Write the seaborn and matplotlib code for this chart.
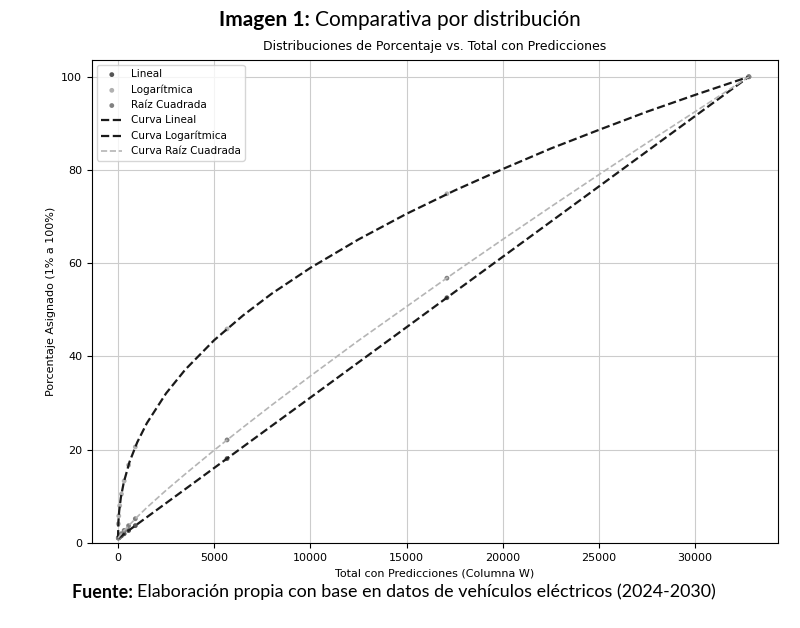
import matplotlib
matplotlib.use("Agg")
import matplotlib.pyplot as plt
import seaborn as sns
import pandas as pd

# puntos (Total con Predicciones vs porcentaje asignado)
totales = [15, 40, 90, 180, 320, 550, 900, 5670, 17100, 32800]
pct_lineal = [1.05, 1.12, 1.27, 1.54, 1.97, 2.66, 3.72, 18.1, 52.6, 100]
pct_log = [4.1, 5.8, 8.0, 10.5, 13.3, 16.7, 20.6, 45.9, 74.9, 100]
pct_raiz = [1.11, 1.27, 1.55, 2.0, 2.7, 3.7, 5.2, 22.1, 56.8, 100]

# curvas
curva_x = [0, 20, 60, 150, 300, 600, 1000, 1500, 2500, 3500, 5000, 6500, 8000,
           10000, 12500, 15000, 17500, 20000, 22500, 25000, 27500, 30000, 32800]
curva_lineal = [1, 1.06, 1.18, 1.45, 1.91, 2.81, 4.02, 5.53, 8.55, 11.56, 16.09, 20.62,
                25.15, 31.18, 38.73, 46.27, 53.82, 61.37, 68.91, 76.46, 84.0, 91.55, 100]
curva_log = [1, 4.5, 6.8, 9.8, 13.0, 17.4, 21.6, 25.7, 32.1, 37.2, 43.5, 48.8, 53.5,
             59.0, 65.1, 70.6, 75.6, 80.2, 84.6, 88.6, 92.5, 96.1, 100]
curva_raiz = [1, 1.15, 1.39, 1.86, 2.6, 3.9, 5.6, 7.6, 11.3, 14.8, 19.9, 24.8, 29.6,
              35.8, 43.4, 50.7, 58.0, 65.1, 72.1, 79.0, 85.8, 92.5, 100]

puntos = pd.DataFrame({"total": totales, "Lineal": pct_lineal,
                       "Logarítmica": pct_log, "Raíz Cuadrada": pct_raiz})
curvas = pd.DataFrame({"x": curva_x, "Curva Lineal": curva_lineal,
                       "Curva Logarítmica": curva_log, "Curva Raíz Cuadrada": curva_raiz})

fig = plt.figure(figsize=(8, 6.28), dpi=100)
ax = fig.add_axes([0.115, 0.1354, 0.8575, 0.7691])

colores_pts = {"Lineal": "#555555", "Logarítmica": "#b0b0b0", "Raíz Cuadrada": "#808080"}
for col, c in colores_pts.items():
    sns.scatterplot(data=puntos, x="total", y=col, color=c, s=12, edgecolor="none",
                    label=col, ax=ax, zorder=2)

estilos = {"Curva Lineal": ("#1a1a1a", 1.6), "Curva Logarítmica": ("#1a1a1a", 1.6),
           "Curva Raíz Cuadrada": ("#b5b5b5", 1.2)}
for col, (c, lw) in estilos.items():
    sns.lineplot(data=curvas, x="x", y=col, color=c, lw=lw, linestyle="--",
                 label=col, ax=ax, sort=False, estimator=None, zorder=3)

ax.set_xlim(-1352, 34315)
ax.set_ylim(0, 103.6)
ax.set_xticks([0, 5000, 10000, 15000, 20000, 25000, 30000])
ax.set_yticks([0, 20, 40, 60, 80, 100])
ax.grid(True, color="#cccccc", lw=0.8)
ax.tick_params(labelsize=8)
ax.set_xlabel("Total con Predicciones (Columna W)", fontsize=8)
ax.set_ylabel("Porcentaje Asignado (1% a 100%)", fontsize=8)
ax.set_title("Distribuciones de Porcentaje vs. Total con Predicciones", fontsize=9, pad=7)
ax.legend(loc="upper left", fontsize=7.5, frameon=True)

fig.canvas.draw()
renderer = fig.canvas.get_renderer()


def texto_mixto(x, y, negrita, normal, size, ha="left", ancho=None):
    t1 = fig.text(x, y, negrita, fontsize=size, fontweight="bold", family="Lato", va="center")
    t2 = fig.text(x, y, normal, fontsize=size, family="Lato", va="center")
    w1 = t1.get_window_extent(renderer).width
    w2 = t2.get_window_extent(renderer).width
    if ancho is not None:
        size = size * ancho / (w1 + w2)
        t1.set_fontsize(size)
        t2.set_fontsize(size)
        w1 = t1.get_window_extent(renderer).width
        w2 = t2.get_window_extent(renderer).width
    w1 /= fig.bbox.width
    w2 /= fig.bbox.width
    x0 = x - (w1 + w2) / 2 if ha == "center" else x
    t1.set_x(x0)
    t2.set_x(x0 + w1)


texto_mixto(0.5, 1 - 20 / 628, "Imagen 1: ", "Comparativa por distribución", 15, ha="center")
texto_mixto(72 / 800, 1 - 592 / 628, "Fuente: ",
            "Elaboración propia con base en datos de vehículos eléctricos (2024-2030)",
            15, ancho=646)

fig.savefig("out.png", dpi=100)
